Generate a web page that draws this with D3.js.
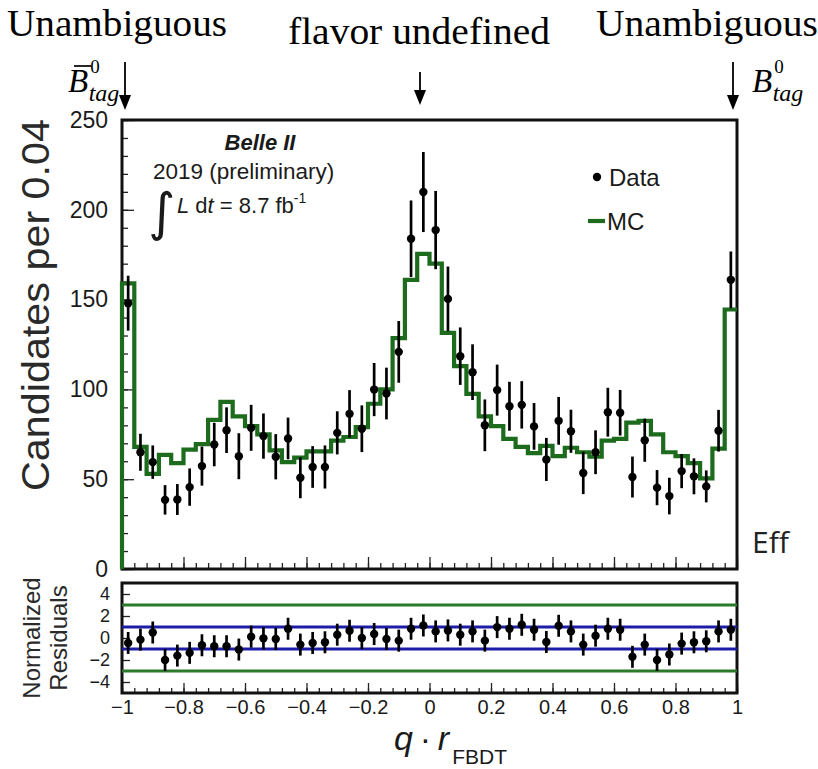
<!DOCTYPE html>
<html>
<head>
<meta charset="utf-8">
<script src="https://cdn.jsdelivr.net/npm/d3@7"></script>
<style>
  body { margin: 0; background: #fff; }
  svg { display: block; }
</style>
</head>
<body>
<svg id="chart" width="818" height="769"></svg>
<script>
// Binning of q·r_FBDT: 50 bins of width 0.04 between -1 and 1
const xMin = -1, xMax = 1, nBins = 50;

// Data candidates per bin
const dataCounts = [148, 65, 59.5, 38.5, 38.7, 45.6, 57.3, 69.3, 77.3, 62.8,
  78.6, 74, 62.5, 72.7, 50.8, 56.8, 56.8, 75.8, 86.4, 78.1,
  99.9, 97.7, 120.9, 183.9, 209.9, 188.7, 150.4, 118.5, 109.6, 80,
  99.6, 90.6, 91.4, 79.4, 61, 82.5, 76.7, 53.5, 65, 87.3,
  87, 51.2, 71.7, 45.3, 40.6, 54.5, 51.6, 46, 77, 161];

// Uncertainty on each data bin
const dataErrors = [15.3, 10.3, 9.3, 8.2, 8.6, 10.4, 10.9, 12.1, 12.7, 12.8,
  12.8, 12.6, 12.6, 11.6, 11.4, 11.6, 12, 12, 13.2, 13,
  14.8, 14.4, 17.2, 21.3, 22.3, 21.8, 18, 16, 15.5, 14.4,
  14.2, 13.6, 13.2, 13, 12, 13.3, 12, 11.8, 12.2, 13.6,
  12.7, 11.4, 12, 9.8, 10.2, 9.5, 10, 8.9, 11.6, 15.8];

// Simulated (MC) expectation per bin
const mcCounts = [159, 68, 53, 63.5, 59, 66.5, 69.5, 83, 93, 85,
  79.5, 75, 66, 59.5, 62, 65.5, 65.5, 71.5, 73.5, 79,
  92, 100, 128.5, 161, 175.5, 170, 131.5, 113, 97.5, 85,
  79.5, 72.5, 68, 64.5, 68.5, 62.8, 67.5, 65, 62.5, 71.5,
  72.5, 81.5, 82.5, 75, 65, 62.8, 59, 50.5, 67, 144.5];

// Normalized residuals (data - MC) / sigma
const residuals = [-0.45, -0.15, 0.5, -2.0, -1.6, -1.35, -0.66, -0.75, -0.75, -1.05,
  0.12, -0.03, -0.09, 0.84, -0.6, -0.45, -0.39, 0.3, 0.66, 0,
  0.36, -0.09, -0.24, 0.84, 1.14, 0.6, 0.69, 0.3, 0.6, -0.24,
  0.99, 0.84, 1.2, 0.75, -0.36, 1.11, 0.6, -0.6, 0.21, 0.84,
  0.75, -1.71, -0.6, -2.0, -1.5, -0.51, -0.39, -0.3, 0.6, 0.75];
const residualUnc = 1;

// Axis ticks
const xTicks = [-1, -0.8, -0.6, -0.4, -0.2, 0, 0.2, 0.4, 0.6, 0.8, 1];
const yTicks = [0, 50, 100, 150, 200, 250];
const resTicks = [-4, -2, 0, 2, 4];
const bandInner = [-1, 1];   // blue reference lines
const bandOuter = [-3, 3];   // green reference lines

const binWidth = (xMax - xMin) / nBins;
const edges = d3.range(nBins + 1).map(i => xMin + i * binWidth);
const centers = d3.range(nBins).map(i => xMin + (i + 0.5) * binWidth);

const svg = d3.select("#chart");
const FONT = "'Liberation Sans', Arial, Helvetica, sans-serif";
const SERIF = "'Liberation Serif', 'Times New Roman', serif";
const MC_GREEN = "#1d6b1d";
const TXT = "#1a1a1a";

// Panel geometry
const left = 122, right = 737;
const mainTop = 120, mainBottom = 569;
const resTop = 583, resBottom = 693;

const x = d3.scaleLinear().domain([xMin, xMax]).range([left, right]);
const y = d3.scaleLinear().domain([0, 250]).range([mainBottom, mainTop]);
const yr = d3.scaleLinear().domain([-5, 5]).range([resBottom, resTop]);

const fmt = d3.format("~g");
const styleTicks = g => g.selectAll("line").attr("stroke", "#222").attr("stroke-width", 1.3);

// ---------- main panel ----------
const main = svg.append("g");

// axes (ticks pointing into the frame)
main.append("g").attr("transform", `translate(${left},0)`)
  .call(d3.axisLeft(y).tickValues(d3.range(0, 251, 10)).tickSize(-6).tickFormat(""))
  .call(g => g.select(".domain").remove()).call(styleTicks);
main.append("g").attr("transform", `translate(${left},0)`)
  .call(d3.axisLeft(y).tickValues(yTicks).tickSize(-12).tickPadding(14).tickFormat(fmt))
  .call(g => g.select(".domain").remove()).call(styleTicks)
  .call(g => g.selectAll("text").attr("font-family", FONT).attr("font-size", 23).attr("fill", TXT));
main.append("g").attr("transform", `translate(0,${mainBottom})`)
  .call(d3.axisBottom(x).tickValues(edges).tickSize(-6).tickFormat(""))
  .call(g => g.select(".domain").remove()).call(styleTicks);
main.append("g").attr("transform", `translate(0,${mainBottom})`)
  .call(d3.axisBottom(x).tickValues(xTicks).tickSize(-12).tickFormat(""))
  .call(g => g.select(".domain").remove()).call(styleTicks);

// frame
main.append("rect")
  .attr("x", left).attr("y", mainTop)
  .attr("width", right - left).attr("height", mainBottom - mainTop)
  .attr("fill", "none").attr("stroke", "#111").attr("stroke-width", 3);

// MC step histogram
const mcPts = [[xMin, 0]];
mcCounts.forEach((v, i) => { mcPts.push([edges[i], v]); mcPts.push([edges[i + 1], v]); });
main.append("path")
  .attr("d", d3.line().x(d => x(d[0])).y(d => y(d[1]))(mcPts))
  .attr("fill", "none").attr("stroke", MC_GREEN).attr("stroke-width", 4.2)
  .attr("stroke-linejoin", "miter");

// data with error bars
const pts = main.append("g").selectAll("g").data(centers).join("g");
pts.append("line")
  .attr("x1", d => x(d)).attr("x2", d => x(d))
  .attr("y1", (d, i) => y(dataCounts[i] + dataErrors[i]))
  .attr("y2", (d, i) => y(Math.max(0, dataCounts[i] - dataErrors[i])))
  .attr("stroke", "#000").attr("stroke-width", 2.7);
pts.append("circle")
  .attr("cx", d => x(d)).attr("cy", (d, i) => y(dataCounts[i]))
  .attr("r", 4.2).attr("fill", "#000");

// y title
svg.append("text")
  .attr("transform", `translate(49,305) rotate(-90)`)
  .attr("text-anchor", "middle")
  .attr("font-family", FONT).attr("font-size", 39).attr("fill", "#2a2a2a")
  .attr("textLength", 372).attr("lengthAdjust", "spacingAndGlyphs")
  .text("Candidates per 0.04");

// labels inside the plot
main.append("text").attr("x", 260).attr("y", 150).attr("text-anchor", "middle")
  .attr("font-family", FONT).attr("font-size", 22).attr("font-weight", "bold")
  .attr("font-style", "italic").attr("fill", TXT).text("Belle II");
main.append("text").attr("x", 153).attr("y", 179)
  .attr("font-family", FONT).attr("font-size", 22.5).attr("fill", TXT)
  .text("2019 (preliminary)");
main.append("text").attr("x", 148).attr("y", 230)
  .attr("font-family", "'DejaVu Sans', sans-serif").attr("font-size", 52).attr("fill", TXT)
  .text("∫");
const lum = main.append("text").attr("x", 177).attr("y", 213)
  .attr("font-family", FONT).attr("font-size", 22).attr("fill", TXT);
lum.append("tspan").attr("font-style", "italic").text("L");
lum.append("tspan").text(" d");
lum.append("tspan").attr("font-style", "italic").text("t");
lum.append("tspan").text(" = 8.7 fb");
lum.append("tspan").attr("font-size", 14).attr("dy", -10).text("-1");

// legend
main.append("circle").attr("cx", 597).attr("cy", 177).attr("r", 4.2).attr("fill", "#000");
main.append("text").attr("x", 609).attr("y", 186)
  .attr("font-family", FONT).attr("font-size", 24).attr("fill", TXT).text("Data");
main.append("line").attr("x1", 588).attr("x2", 605).attr("y1", 221).attr("y2", 221)
  .attr("stroke", MC_GREEN).attr("stroke-width", 4.2);
main.append("text").attr("x", 607).attr("y", 230)
  .attr("font-family", FONT).attr("font-size", 24).attr("fill", TXT).text("MC");

// ---------- residual panel ----------
const res = svg.append("g");
res.append("g").attr("transform", `translate(${left},0)`)
  .call(d3.axisLeft(yr).tickValues(resTicks).tickSize(-8).tickPadding(12).tickFormat(fmt))
  .call(g => g.select(".domain").remove()).call(styleTicks)
  .call(g => g.selectAll("text").attr("font-family", FONT).attr("font-size", 18).attr("fill", TXT));
res.append("g").attr("transform", `translate(0,${resBottom})`)
  .call(d3.axisBottom(x).tickValues(edges).tickSize(-5).tickFormat(""))
  .call(g => g.select(".domain").remove()).call(styleTicks);
res.append("g").attr("transform", `translate(0,${resBottom})`)
  .call(d3.axisBottom(x).tickValues(xTicks).tickSize(-10).tickPadding(7).tickFormat(fmt))
  .call(g => g.select(".domain").remove()).call(styleTicks)
  .call(g => g.selectAll("text").attr("font-family", FONT).attr("font-size", 20).attr("fill", TXT));

res.append("rect")
  .attr("x", left).attr("y", resTop)
  .attr("width", right - left).attr("height", resBottom - resTop)
  .attr("fill", "none").attr("stroke", "#111").attr("stroke-width", 3);

res.selectAll("line.outer").data(bandOuter).join("line").attr("class", "outer")
  .attr("x1", left).attr("x2", right).attr("y1", d => yr(d)).attr("y2", d => yr(d))
  .attr("stroke", "#2b7a2b").attr("stroke-width", 3);
res.selectAll("line.inner").data(bandInner).join("line").attr("class", "inner")
  .attr("x1", left).attr("x2", right).attr("y1", d => yr(d)).attr("y2", d => yr(d))
  .attr("stroke", "#1c1ca6").attr("stroke-width", 3);

const rp = res.append("g").selectAll("g").data(centers).join("g");
rp.append("line")
  .attr("x1", d => x(d)).attr("x2", d => x(d))
  .attr("y1", (d, i) => yr(residuals[i] + residualUnc))
  .attr("y2", (d, i) => yr(residuals[i] - residualUnc))
  .attr("stroke", "#000").attr("stroke-width", 2.7);
rp.append("circle")
  .attr("cx", d => x(d)).attr("cy", (d, i) => yr(residuals[i]))
  .attr("r", 4.2).attr("fill", "#000");

// residual title (two lines)
const rt = svg.append("text")
  .attr("transform", `translate(0,${(resTop + resBottom) / 2}) rotate(-90)`)
  .attr("text-anchor", "middle")
  .attr("font-family", FONT).attr("font-size", 24).attr("fill", "#2a2a2a");
rt.append("tspan").attr("x", 0).attr("y", 40).text("Normalized");
rt.append("tspan").attr("x", 0).attr("y", 67).text("Residuals");

// x title
const xt = svg.append("text").attr("x", 394).attr("y", 750)
  .attr("font-family", FONT).attr("font-size", 34).attr("fill", TXT);
xt.append("tspan").attr("font-style", "italic").text("q");
xt.append("tspan").text("\u2009·\u2009");
xt.append("tspan").attr("font-style", "italic").text("r");
xt.append("tspan").attr("font-size", 21).attr("dy", 14).attr("dx", 3).text("FBDT");

// ---------- annotations above the plot ----------
const ann = svg.append("g").attr("font-family", SERIF).attr("fill", "#000");
ann.append("text").attr("x", 7).attr("y", 36).attr("font-size", 37)
  .attr("textLength", 220).attr("lengthAdjust", "spacingAndGlyphs").text("Unambiguous");
ann.append("text").attr("x", 288).attr("y", 44).attr("font-size", 37)
  .attr("textLength", 262).attr("lengthAdjust", "spacingAndGlyphs").text("flavor undefined");
ann.append("text").attr("x", 596).attr("y", 36).attr("font-size", 37)
  .attr("textLength", 222).attr("lengthAdjust", "spacingAndGlyphs").text("Unambiguous");

// B-meson tag labels: B with superscript 0 and subscript "tag" stacked
function bTag(x0, base, bar) {
  const t = ann.append("text").attr("x", x0).attr("y", base);
  t.append("tspan").attr("font-size", 33).attr("font-style", "italic").text("B");
  t.append("tspan").attr("font-size", 19).attr("dx", 2).attr("dy", -19).text("0");
  t.append("tspan").attr("font-size", 24).attr("font-style", "italic")
    .attr("dx", -11).attr("dy", 28).text("tag");
  if (bar) ann.append("line").attr("x1", x0 + 6).attr("x2", x0 + 23)
    .attr("y1", base - 26).attr("y2", base - 26).attr("stroke", "#000").attr("stroke-width", 1.7);
}
bTag(68, 92, true);
bTag(752, 92, false);

function arrow(xa, y0, y1) {
  ann.append("line").attr("x1", xa).attr("x2", xa).attr("y1", y0).attr("y2", y1 - 12)
    .attr("stroke", "#000").attr("stroke-width", 1.8);
  ann.append("path")
    .attr("d", `M${xa - 6},${y1 - 15} L${xa + 6},${y1 - 15} L${xa},${y1} Z`)
    .attr("fill", "#000");
}
arrow(125, 62, 110);
arrow(420, 72, 105);
arrow(733, 62, 110);

// partial slide text at the right edge
svg.append("text").attr("x", 752).attr("y", 553)
  .attr("font-family", "'Open Sans', 'Noto Sans', sans-serif").attr("font-size", 30)
  .attr("fill", "#222").text("Eff");
</script>
</body>
</html>
